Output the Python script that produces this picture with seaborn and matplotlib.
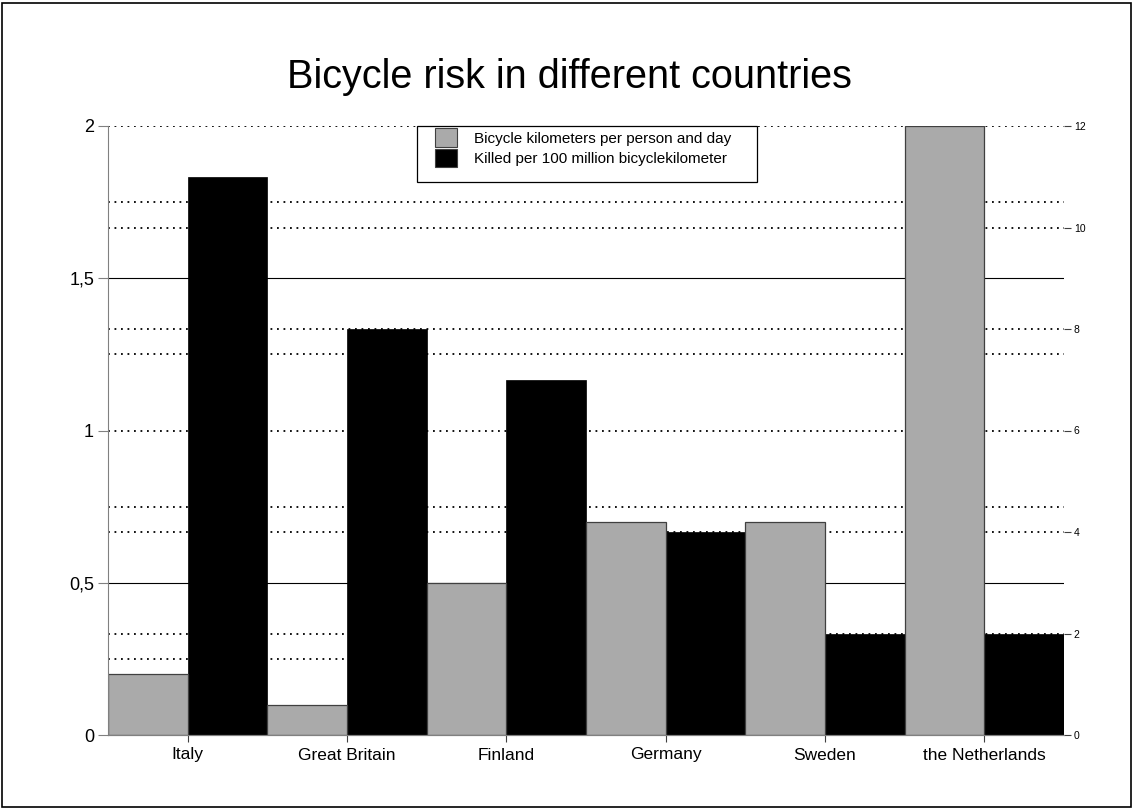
import pandas as pd
import matplotlib.pyplot as plt
import seaborn as sns
from matplotlib.patches import Patch, Rectangle
from matplotlib.ticker import MultipleLocator

# data
countries = ['Italy', 'Great Britain', 'Finland', 'Germany', 'Sweden', 'the Netherlands']
km_per_day = [0.2, 0.1, 0.5, 0.7, 0.7, 2.0]
killed = [11, 8, 7, 4, 2, 2]
left_ticks = [0, 0.5, 1, 1.5, 2]
left_labels = ['0', '0,5', '1', '1,5', '2']
right_ticks = [0, 2, 4, 6, 8, 10, 12]
series = ['Bicycle kilometers per person and day', 'Killed per 100 million bicyclekilometer']
colors = {series[0]: '#aaaaaa', series[1]: '#000000'}

df = pd.DataFrame({
    'country': countries * 2,
    'series': [series[0]] * len(countries) + [series[1]] * len(countries),
    'value': km_per_day + killed,
})

plt.rcParams['font.family'] = ['Liberation Sans', 'DejaVu Sans']
fig = plt.figure(figsize=(11.34, 8.09), dpi=100)
ax = fig.add_axes([108 / 1134, 74 / 809, 956 / 1134, 609 / 809])
ax2 = ax.twinx()

# right axis (killed) sits underneath, left axis (km) on top with transparent patch
ax.set_zorder(ax2.get_zorder() + 1)
ax.patch.set_visible(False)
ax2.patch.set_facecolor('white')

sns.barplot(data=df[df['series'] == series[1]], x='country', y='value', hue='series',
            hue_order=series, palette=colors, order=countries, dodge=True, width=1.0,
            errorbar=None, legend=False, ax=ax2, edgecolor='black', linewidth=0.5)
sns.barplot(data=df[df['series'] == series[0]], x='country', y='value', hue='series',
            hue_order=series, palette=colors, order=countries, dodge=True, width=1.0,
            errorbar=None, legend=False, ax=ax, edgecolor='#404040', linewidth=0.9)

dotted = (0, (1, 2.6))
ax.set_ylim(0, 2)
ax.set_xlim(-0.5, len(countries) - 0.5)
ax.set_yticks(left_ticks)
ax.set_yticklabels(left_labels, fontsize=13)
ax.yaxis.set_minor_locator(MultipleLocator(0.25))
ax.set_axisbelow(True)
ax.grid(axis='y', which='major', color='black', linewidth=0.8, linestyle='-')
ax.grid(axis='y', which='minor', color='black', linewidth=1.3, linestyle=dotted)
# solid lines only at 0,5 and 1,5
for t, v in zip(ax.yaxis.get_major_ticks(), left_ticks):
    if v not in (0.5, 1.5):
        t.gridline.set_visible(False)
ax.tick_params(axis='y', which='minor', length=0)
ax.tick_params(axis='y', which='major', length=7, width=0.8, color='#808080', pad=3)
ax.tick_params(axis='x', length=5, width=0.8, color='#404040', labelsize=12.5, pad=4)

ax2.set_ylim(0, 12)
ax2.set_yticks(right_ticks)
ax2.set_yticklabels([str(t) for t in right_ticks], fontsize=7.5)
ax2.set_axisbelow(True)
ax2.grid(axis='y', color='black', linewidth=1.3, linestyle=dotted)
ax2.tick_params(axis='y', length=5, width=0.8, color='#404040', pad=2)

for a in (ax, ax2):
    a.set_xlabel('')
    a.set_ylabel('')
    a.spines['top'].set_visible(False)
    a.spines['right'].set_visible(False)
    a.spines['left'].set_color('#808080')
    a.spines['bottom'].set_color('#808080')
ax2.spines['left'].set_visible(False)

# legend box
ax.add_patch(Rectangle((0.323, 0.908), 0.356, 0.092, transform=ax.transAxes, clip_on=False,
                       facecolor='white', edgecolor='black', linewidth=0.9, zorder=4))
handles = [Patch(facecolor=colors[s], edgecolor='#404040', linewidth=0.8, label=s) for s in series]
leg = ax.legend(handles=handles, loc='upper left', bbox_to_anchor=(0.342, 0.996),
                fontsize=11, frameon=False, borderpad=0, borderaxespad=0,
                handlelength=1.45, handleheight=1.45, handletextpad=1.1, labelspacing=0.15)
leg.set_zorder(5)

fig.text(569 / 1134, 1 - 88 / 809, 'Bicycle risk in different countries',
         ha='center', va='baseline', fontsize=28.5)
fig.patches.append(Rectangle((2 / 1134, 2 / 809), 1129 / 1134, 804 / 809, transform=fig.transFigure,
                             fill=False, edgecolor='black', linewidth=1.2))

fig.savefig('out.png', dpi=100)
